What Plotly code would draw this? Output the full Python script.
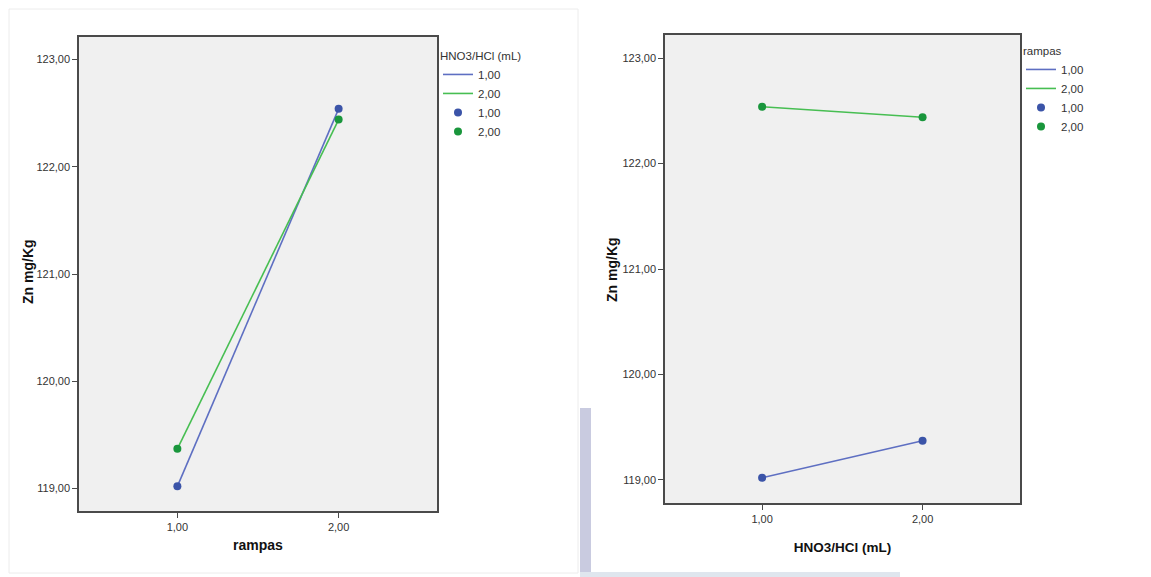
import plotly.graph_objects as go

# ---- data ----
levels = [1.0, 2.0]                 # x positions for both factors
series_names = ["1,00", "2,00"]
# Left chart: x = rampas, series = HNO3/HCl (mL)
left_vals = {
    "1,00": [119.02, 122.54],
    "2,00": [119.37, 122.44],
}
# Right chart: x = HNO3/HCl (mL), series = rampas
right_vals = {
    "1,00": [119.02, 119.37],
    "2,00": [122.54, 122.44],
}
y_ticks = [119, 120, 121, 122, 123]
x_ticks = [1, 2]

line_colors = {"1,00": "#5E6FC2", "2,00": "#47BE52"}
marker_colors = {"1,00": "#3B54A8", "2,00": "#19963C"}

# page body adds an 8px margin; lay out in screenshot pixels minus that offset
OFF = 8
W, H = 1151 - OFF, 577 - OFF


def px(x):
    return (x - OFF) / W


def py(y):
    return 1 - (y - OFF) / H


FONT = "Liberation Sans Narrow, Arial Narrow, Liberation Sans, Arial"
tick_font = dict(family=FONT, size=11, color="#333333")
title_font = dict(family=FONT, size=14, color="#111111")
title_font2 = dict(family=FONT, size=13.5, color="#111111")
legend_font = dict(family=FONT, size=11.5, color="#333333")

fig = go.Figure()


def add_panel(vals, xa, ya, legend):
    for name in series_names:
        fig.add_trace(go.Scatter(
            x=levels, y=vals[name], mode="lines", name=name,
            line=dict(color=line_colors[name], width=1.6),
            xaxis=xa, yaxis=ya, legend=legend, hoverinfo="skip"))
    for name in series_names:
        fig.add_trace(go.Scatter(
            x=levels, y=vals[name], mode="markers", name=name,
            marker=dict(color=marker_colors[name], size=8),
            xaxis=xa, yaxis=ya, legend=legend))


add_panel(left_vals, "x", "y", "legend")
add_panel(right_vals, "x2", "y2", "legend2")

axis_common = dict(
    showgrid=False, zeroline=False, showline=True, mirror=True,
    linecolor="#4a4a4a", linewidth=1.5, ticks="outside", ticklen=5,
    tickcolor="#4a4a4a", tickwidth=1.2, tickfont=tick_font, tickformat=".2f",
)

fig.update_layout(
    width=W, height=H,
    margin=dict(l=0, r=0, t=0, b=0),
    paper_bgcolor="white",
    plot_bgcolor="#F0F0F0",
    separators=",.",
    showlegend=True,
    xaxis=dict(domain=[px(79), px(437)], range=[0.39, 2.61], tickvals=x_ticks,
               title=dict(text="<b>rampas</b>", font=title_font, standoff=8),
               anchor="y", **axis_common),
    yaxis=dict(domain=[py(511), py(37)], range=[118.79, 123.21], tickvals=y_ticks,
               anchor="x", **axis_common),
    xaxis2=dict(domain=[px(665), px(1020)], range=[0.395, 2.607], tickvals=x_ticks,
                title=dict(text="<b>HNO3/HCl (mL)</b>", font=title_font2, standoff=19),
                anchor="y2", **axis_common),
    yaxis2=dict(domain=[py(503), py(35)], range=[118.78, 123.22], tickvals=y_ticks,
                anchor="x2", **axis_common),
    legend=dict(x=px(438), y=py(45), xanchor="left", yanchor="top",
                title=dict(text="HNO3/HCl (mL)", font=legend_font, side="top"),
                font=legend_font, bgcolor="rgba(0,0,0,0)", tracegroupgap=0,
                itemwidth=30),
    legend2=dict(x=px(1021), y=py(40), xanchor="left", yanchor="top",
                 title=dict(text="rampas", font=legend_font, side="top"),
                 font=legend_font, bgcolor="rgba(0,0,0,0)", tracegroupgap=0,
                 itemwidth=30),
    annotations=[
        dict(text="<b>Zn mg/Kg</b>", font=title_font, textangle=-90,
             xref="paper", yref="paper", x=px(28), y=py(272),
             xanchor="center", yanchor="middle", showarrow=False),
        dict(text="<b>Zn mg/Kg</b>", font=title_font, textangle=-90,
             xref="paper", yref="paper", x=px(612), y=py(270),
             xanchor="center", yanchor="middle", showarrow=False),
    ],
    shapes=[
        # faint panel border / backdrop seen in the reference screenshot
        dict(type="rect", xref="paper", yref="paper", x0=px(9), x1=px(578), y0=py(573), y1=py(9),
             line=dict(color="#ececec", width=1), fillcolor="rgba(0,0,0,0)", layer="below"),
        dict(type="rect", xref="paper", yref="paper", x0=px(580), x1=px(591), y0=py(577), y1=py(408),
             line=dict(width=0), fillcolor="#c9cbe0", layer="below"),
        dict(type="rect", xref="paper", yref="paper", x0=px(580), x1=px(900), y0=py(577), y1=py(572),
             line=dict(width=0), fillcolor="#dfe6ee", layer="below"),
    ],
)

fig.write_html("out.html")
